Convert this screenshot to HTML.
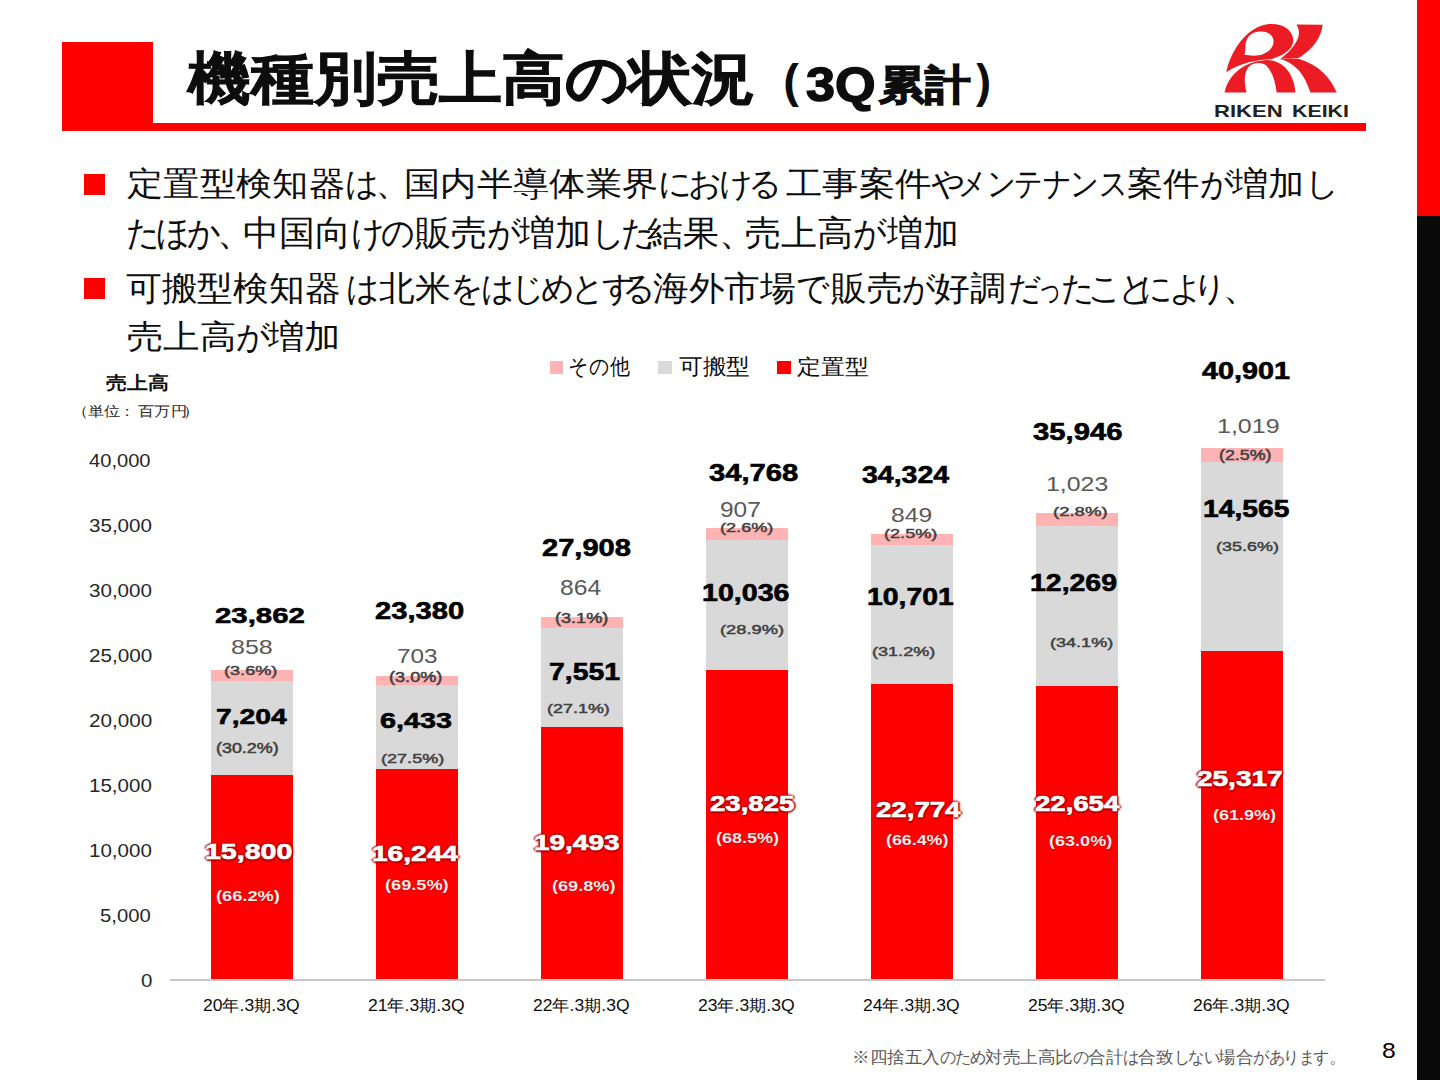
<!DOCTYPE html>
<html><head><meta charset="utf-8"><style>
html,body{margin:0;padding:0;background:#fff;}
body{width:1440px;height:1080px;position:relative;overflow:hidden;font-family:"Liberation Sans",sans-serif;}
.t{position:absolute;white-space:nowrap;transform-origin:0 0;}
.b{position:absolute;width:82px;}
.r{position:absolute;}
</style></head><body>
<div class="r" style="left:1417px;top:0;width:23px;height:216px;background:#ff0000"></div>
<div class="r" style="left:1417px;top:216px;width:23px;height:864px;background:#0a0a0a"></div>
<div class="r" style="left:62px;top:42px;width:91px;height:89px;background:#ff0000"></div>
<div class="r" style="left:62px;top:123px;width:1304px;height:8px;background:#ff0000"></div>
<svg style="position:absolute;left:1220px;top:18px" width="120" height="77" viewBox="0 0 1440 924">
<g fill="#ec1c24">
<path d="M75,650 C120,430 300,100 590,72 C770,60 885,160 878,275 C870,380 760,450 610,495 C430,500 240,545 75,650 Z"/>
<path d="M55,895 C95,690 280,535 490,512 C600,490 700,520 780,590 C860,670 900,790 905,895 L680,895 C665,770 630,650 560,575 C500,525 400,530 340,590 C290,650 285,770 318,895 Z"/>
<path d="M720,492 C800,480 880,478 960,495 C1180,560 1330,720 1400,895 L1085,895 C1040,760 980,640 880,570 C830,530 780,505 720,492 Z"/>
<path d="M918,78 L1232,82 C1215,230 1120,370 960,470 L930,482 C880,478 790,482 720,492 C820,420 905,330 940,230 C955,170 945,120 918,78 Z"/>
</g>
<path fill="#fff" d="M455,165 C570,150 645,205 643,285 C640,365 560,430 465,448 C400,458 340,448 290,442 C305,420 302,395 305,340 C310,240 360,178 455,165 Z"/>
</svg>

<div class="r" style="left:84px;top:174px;width:21px;height:21px;background:#ff0000"></div>
<div class="r" style="left:84px;top:278px;width:21px;height:21px;background:#ff0000"></div>
<div class="r" style="left:550px;top:361px;width:13px;height:13px;background:#ffb3b3"></div>
<div class="r" style="left:658px;top:361px;width:14px;height:13px;background:#d9d9d9"></div>
<div class="r" style="left:777px;top:361px;width:14px;height:13px;background:#ff0000"></div>
<div class="b" style="left:211px;top:669.79px;height:11.15px;background:#ffb3b3"></div><div class="b" style="left:211px;top:680.95px;height:93.65px;background:#d9d9d9"></div><div class="b" style="left:211px;top:774.60px;height:205.40px;background:#ff0000"></div><div class="b" style="left:376px;top:676.06px;height:9.14px;background:#ffb3b3"></div><div class="b" style="left:376px;top:685.20px;height:83.63px;background:#d9d9d9"></div><div class="b" style="left:376px;top:768.83px;height:211.17px;background:#ff0000"></div><div class="b" style="left:541px;top:617.20px;height:11.23px;background:#ffb3b3"></div><div class="b" style="left:541px;top:628.43px;height:98.16px;background:#d9d9d9"></div><div class="b" style="left:541px;top:726.59px;height:253.41px;background:#ff0000"></div><div class="b" style="left:706px;top:528.02px;height:11.79px;background:#ffb3b3"></div><div class="b" style="left:706px;top:539.81px;height:130.47px;background:#d9d9d9"></div><div class="b" style="left:706px;top:670.28px;height:309.72px;background:#ff0000"></div><div class="b" style="left:871px;top:533.79px;height:11.04px;background:#ffb3b3"></div><div class="b" style="left:871px;top:544.83px;height:139.11px;background:#d9d9d9"></div><div class="b" style="left:871px;top:683.94px;height:296.06px;background:#ff0000"></div><div class="b" style="left:1036px;top:512.70px;height:13.30px;background:#ffb3b3"></div><div class="b" style="left:1036px;top:526.00px;height:159.50px;background:#d9d9d9"></div><div class="b" style="left:1036px;top:685.50px;height:294.50px;background:#ff0000"></div><div class="b" style="left:1201px;top:448.29px;height:13.25px;background:#ffb3b3"></div><div class="b" style="left:1201px;top:461.53px;height:189.35px;background:#d9d9d9"></div><div class="b" style="left:1201px;top:650.88px;height:329.12px;background:#ff0000"></div>
<div class="r" style="left:170px;top:979px;width:1155px;height:2px;background:#c8c8c8"></div>
<div class="t" style="left:187.89px;top:50.13px;font-family:'Liberation Sans',sans-serif;font-weight:bold;font-size:57.35px;line-height:57.35px;color:#0d0d0d;transform:scaleX(1.1027);-webkit-text-stroke-width:0.014em;">機種別売上高の状況</div>
<div class="t" style="left:760.23px;top:57.91px;font-family:'Liberation Sans',sans-serif;font-weight:bold;font-size:46.60px;line-height:46.60px;color:#0d0d0d;transform:scaleX(0.8936);-webkit-text-stroke-width:0.05em;">（</div>
<div class="t" style="left:806.08px;top:59.79px;font-family:'Liberation Sans',sans-serif;font-weight:bold;font-size:48.93px;line-height:48.93px;color:#0d0d0d;transform:scaleX(1.0659);-webkit-text-stroke-width:0.03em;">3Q</div>
<div class="t" style="left:878.57px;top:65.02px;font-family:'Liberation Sans',sans-serif;font-weight:bold;font-size:40.96px;line-height:40.96px;color:#0d0d0d;transform:scaleX(1.1137);-webkit-text-stroke-width:0.035em;">累計</div>
<div class="t" style="left:973.49px;top:57.91px;font-family:'Liberation Sans',sans-serif;font-weight:bold;font-size:46.60px;line-height:46.60px;color:#0d0d0d;transform:scaleX(0.8631);-webkit-text-stroke-width:0.05em;">）</div>
<div class="t" style="left:1214.43px;top:102.60px;font-family:'Liberation Sans',sans-serif;font-weight:bold;font-size:16.23px;line-height:16.23px;color:#231f20;transform:scaleX(1.3605);">RIKEN</div>
<div class="t" style="left:1292.08px;top:102.60px;font-family:'Liberation Sans',sans-serif;font-weight:bold;font-size:16.23px;line-height:16.23px;color:#231f20;transform:scaleX(1.3154);">KEIKI</div>
<div class="t" style="left:126.84px;top:168.20px;font-family:'Liberation Sans',sans-serif;font-weight:normal;font-size:32.73px;line-height:32.73px;color:#0d0d0d;transform:scaleX(1.1000);">定置型検知器<span style="display:inline-block;width:0.84em;transform:scaleX(0.92);transform-origin:0 0">は</span><span style="display:inline-block;width:0.8em">、</span></div>
<div class="t" style="left:404.12px;top:168.20px;font-family:'Liberation Sans',sans-serif;font-weight:normal;font-size:32.73px;line-height:32.73px;color:#0d0d0d;transform:scaleX(1.1000);">国内半導体業界<span style="display:inline-block;width:0.84em;transform:scaleX(0.92);transform-origin:0 0">に</span><span style="display:inline-block;width:0.84em;transform:scaleX(0.92);transform-origin:0 0">お</span><span style="display:inline-block;width:0.84em;transform:scaleX(0.92);transform-origin:0 0">け</span><span style="display:inline-block;width:0.84em;transform:scaleX(0.92);transform-origin:0 0">る</span></div>
<div class="t" style="left:786.08px;top:168.20px;font-family:'Liberation Sans',sans-serif;font-weight:normal;font-size:32.73px;line-height:32.73px;color:#0d0d0d;transform:scaleX(1.1000);">工事案件<span style="display:inline-block;width:0.84em;transform:scaleX(0.92);transform-origin:0 0">や</span></div>
<div class="t" style="left:958.12px;top:168.20px;font-family:'Liberation Sans',sans-serif;font-weight:normal;font-size:32.73px;line-height:32.73px;color:#0d0d0d;transform:scaleX(1.1000);"><span style="display:inline-block;width:0.78em;transform:scaleX(0.78);transform-origin:0 0">メ</span><span style="display:inline-block;width:0.78em;transform:scaleX(0.78);transform-origin:0 0">ン</span><span style="display:inline-block;width:0.78em;transform:scaleX(0.78);transform-origin:0 0">テ</span><span style="display:inline-block;width:0.78em;transform:scaleX(0.78);transform-origin:0 0">ナ</span><span style="display:inline-block;width:0.78em;transform:scaleX(0.78);transform-origin:0 0">ン</span><span style="display:inline-block;width:0.78em;transform:scaleX(0.78);transform-origin:0 0">ス</span></div>
<div class="t" style="left:1126.92px;top:168.20px;font-family:'Liberation Sans',sans-serif;font-weight:normal;font-size:32.73px;line-height:32.73px;color:#0d0d0d;transform:scaleX(1.1000);">案件<span style="display:inline-block;width:0.84em;transform:scaleX(0.92);transform-origin:0 0">が</span></div>
<div class="t" style="left:1231.80px;top:168.20px;font-family:'Liberation Sans',sans-serif;font-weight:normal;font-size:32.73px;line-height:32.73px;color:#0d0d0d;transform:scaleX(1.1000);">増加<span style="display:inline-block;width:0.84em;transform:scaleX(0.92);transform-origin:0 0">し</span></div>
<div class="t" style="left:125.84px;top:216.20px;font-family:'Liberation Sans',sans-serif;font-weight:normal;font-size:34.95px;line-height:34.95px;color:#0d0d0d;transform:scaleX(1.0302);"><span style="display:inline-block;width:0.84em;transform:scaleX(0.92);transform-origin:0 0">た</span><span style="display:inline-block;width:0.84em;transform:scaleX(0.92);transform-origin:0 0">ほ</span><span style="display:inline-block;width:0.84em;transform:scaleX(0.92);transform-origin:0 0">か</span><span style="display:inline-block;width:0.8em">、</span></div>
<div class="t" style="left:242.84px;top:216.20px;font-family:'Liberation Sans',sans-serif;font-weight:normal;font-size:34.95px;line-height:34.95px;color:#0d0d0d;transform:scaleX(1.0302);">中国向<span style="display:inline-block;width:0.84em;transform:scaleX(0.92);transform-origin:0 0">け</span><span style="display:inline-block;width:0.84em;transform:scaleX(0.92);transform-origin:0 0">の</span></div>
<div class="t" style="left:415.24px;top:216.20px;font-family:'Liberation Sans',sans-serif;font-weight:normal;font-size:34.95px;line-height:34.95px;color:#0d0d0d;transform:scaleX(1.0302);">販売<span style="display:inline-block;width:0.84em;transform:scaleX(0.92);transform-origin:0 0">が</span></div>
<div class="t" style="left:519.40px;top:216.20px;font-family:'Liberation Sans',sans-serif;font-weight:normal;font-size:34.95px;line-height:34.95px;color:#0d0d0d;transform:scaleX(1.0302);">増加<span style="display:inline-block;width:0.84em;transform:scaleX(0.92);transform-origin:0 0">し</span><span style="display:inline-block;width:0.84em;transform:scaleX(0.92);transform-origin:0 0">た</span></div>
<div class="t" style="left:646.80px;top:216.20px;font-family:'Liberation Sans',sans-serif;font-weight:normal;font-size:34.95px;line-height:34.95px;color:#0d0d0d;transform:scaleX(1.0302);">結果<span style="display:inline-block;width:0.8em">、</span></div>
<div class="t" style="left:745.36px;top:216.20px;font-family:'Liberation Sans',sans-serif;font-weight:normal;font-size:34.95px;line-height:34.95px;color:#0d0d0d;transform:scaleX(1.0302);">売上高<span style="display:inline-block;width:0.84em;transform:scaleX(0.92);transform-origin:0 0">が</span></div>
<div class="t" style="left:886.80px;top:216.20px;font-family:'Liberation Sans',sans-serif;font-weight:normal;font-size:34.95px;line-height:34.95px;color:#0d0d0d;transform:scaleX(1.0302);">増加</div>
<div class="t" style="left:126.28px;top:270.77px;font-family:'Liberation Sans',sans-serif;font-weight:normal;font-size:34.27px;line-height:34.27px;color:#0d0d0d;transform:scaleX(1.0505);">可搬型検知器</div>
<div class="t" style="left:345.84px;top:270.77px;font-family:'Liberation Sans',sans-serif;font-weight:normal;font-size:34.27px;line-height:34.27px;color:#0d0d0d;transform:scaleX(1.0505);"><span style="display:inline-block;width:0.84em;transform:scaleX(0.92);transform-origin:0 0">は</span></div>
<div class="t" style="left:378.64px;top:270.77px;font-family:'Liberation Sans',sans-serif;font-weight:normal;font-size:34.27px;line-height:34.27px;color:#0d0d0d;transform:scaleX(1.0505);">北米<span style="display:inline-block;width:0.84em;transform:scaleX(0.92);transform-origin:0 0">を</span><span style="display:inline-block;width:0.84em;transform:scaleX(0.92);transform-origin:0 0">は</span><span style="display:inline-block;width:0.84em;transform:scaleX(0.92);transform-origin:0 0">じ</span><span style="display:inline-block;width:0.84em;transform:scaleX(0.92);transform-origin:0 0">め</span><span style="display:inline-block;width:0.84em;transform:scaleX(0.92);transform-origin:0 0">と</span><span style="display:inline-block;width:0.84em;transform:scaleX(0.92);transform-origin:0 0">す</span></div>
<div class="t" style="left:622.04px;top:270.77px;font-family:'Liberation Sans',sans-serif;font-weight:normal;font-size:34.27px;line-height:34.27px;color:#0d0d0d;transform:scaleX(1.0505);"><span style="display:inline-block;width:0.84em;transform:scaleX(0.92);transform-origin:0 0">る</span></div>
<div class="t" style="left:653.28px;top:270.77px;font-family:'Liberation Sans',sans-serif;font-weight:normal;font-size:34.27px;line-height:34.27px;color:#0d0d0d;transform:scaleX(1.0505);">海外市場<span style="display:inline-block;width:0.84em;transform:scaleX(0.92);transform-origin:0 0">で</span></div>
<div class="t" style="left:831.44px;top:270.77px;font-family:'Liberation Sans',sans-serif;font-weight:normal;font-size:34.27px;line-height:34.27px;color:#0d0d0d;transform:scaleX(1.0505);">販売<span style="display:inline-block;width:0.84em;transform:scaleX(0.92);transform-origin:0 0">が</span></div>
<div class="t" style="left:933.64px;top:270.77px;font-family:'Liberation Sans',sans-serif;font-weight:normal;font-size:34.27px;line-height:34.27px;color:#0d0d0d;transform:scaleX(1.0505);">好調</div>
<div class="t" style="left:1007.84px;top:270.77px;font-family:'Liberation Sans',sans-serif;font-weight:normal;font-size:34.27px;line-height:34.27px;color:#0d0d0d;transform:scaleX(1.0505);"><span style="display:inline-block;width:0.84em;transform:scaleX(0.92);transform-origin:0 0">だ</span><span style="display:inline-block;width:0.66em;transform:scaleX(0.66);transform-origin:0 0">っ</span></div>
<div class="t" style="left:1061.04px;top:270.77px;font-family:'Liberation Sans',sans-serif;font-weight:normal;font-size:34.27px;line-height:34.27px;color:#0d0d0d;transform:scaleX(1.0505);"><span style="display:inline-block;width:0.84em;transform:scaleX(0.92);transform-origin:0 0">た</span></div>
<div class="t" style="left:1088.04px;top:270.77px;font-family:'Liberation Sans',sans-serif;font-weight:normal;font-size:34.27px;line-height:34.27px;color:#0d0d0d;transform:scaleX(1.0505);"><span style="display:inline-block;width:0.84em;transform:scaleX(0.92);transform-origin:0 0">こ</span><span style="display:inline-block;width:0.84em;transform:scaleX(0.92);transform-origin:0 0">と</span></div>
<div class="t" style="left:1138.56px;top:270.77px;font-family:'Liberation Sans',sans-serif;font-weight:normal;font-size:34.27px;line-height:34.27px;color:#0d0d0d;transform:scaleX(1.0505);"><span style="display:inline-block;width:0.84em;transform:scaleX(0.92);transform-origin:0 0">に</span><span style="display:inline-block;width:0.84em;transform:scaleX(0.92);transform-origin:0 0">よ</span></div>
<div class="t" style="left:1192.80px;top:270.77px;font-family:'Liberation Sans',sans-serif;font-weight:normal;font-size:34.27px;line-height:34.27px;color:#0d0d0d;transform:scaleX(1.0505);"><span style="display:inline-block;width:0.84em;transform:scaleX(0.92);transform-origin:0 0">り</span><span style="display:inline-block;width:0.8em">、</span></div>
<div class="t" style="left:126.56px;top:320.57px;font-family:'Liberation Sans',sans-serif;font-weight:normal;font-size:32.66px;line-height:32.66px;color:#0d0d0d;transform:scaleX(1.1023);">売上高<span style="display:inline-block;width:0.84em;transform:scaleX(0.92);transform-origin:0 0">が</span></div>
<div class="t" style="left:268.20px;top:320.57px;font-family:'Liberation Sans',sans-serif;font-weight:normal;font-size:32.66px;line-height:32.66px;color:#0d0d0d;transform:scaleX(1.1023);">増加</div>
<div class="t" style="left:568.37px;top:355.92px;font-family:'Liberation Sans',sans-serif;font-weight:normal;font-size:21.65px;line-height:21.65px;color:#0d0d0d;transform:scaleX(0.9092);">その他</div>
<div class="t" style="left:678.53px;top:356.12px;font-family:'Liberation Sans',sans-serif;font-weight:normal;font-size:22.11px;line-height:22.11px;color:#0d0d0d;transform:scaleX(1.0773);">可搬型</div>
<div class="t" style="left:796.76px;top:356.00px;font-family:'Liberation Sans',sans-serif;font-weight:normal;font-size:21.21px;line-height:21.21px;color:#0d0d0d;transform:scaleX(1.1352);">定置型</div>
<div class="t" style="left:105.78px;top:374.86px;font-family:'Liberation Sans',sans-serif;font-weight:bold;font-size:17.82px;line-height:17.82px;color:#0d0d0d;transform:scaleX(1.1606);">売上高</div>
<div class="t" style="left:72.21px;top:403.73px;font-family:'Liberation Sans',sans-serif;font-weight:normal;font-size:14.30px;line-height:14.30px;color:#262626;transform:scaleX(1.1608);">（</div>
<div class="t" style="left:88.47px;top:403.73px;font-family:'Liberation Sans',sans-serif;font-weight:normal;font-size:14.30px;line-height:14.30px;color:#262626;transform:scaleX(1.1608);">単位</div>
<div class="t" style="left:118.90px;top:403.73px;font-family:'Liberation Sans',sans-serif;font-weight:normal;font-size:14.30px;line-height:14.30px;color:#262626;transform:scaleX(1.1608);">：</div>
<div class="t" style="left:137.87px;top:403.73px;font-family:'Liberation Sans',sans-serif;font-weight:normal;font-size:14.30px;line-height:14.30px;color:#262626;transform:scaleX(1.1608);">百万円</div>
<div class="t" style="left:182.71px;top:403.73px;font-family:'Liberation Sans',sans-serif;font-weight:normal;font-size:14.30px;line-height:14.30px;color:#262626;transform:scaleX(1.1608);">）</div>
<div class="t" style="left:89.39px;top:452.87px;font-family:'Liberation Sans',sans-serif;font-weight:normal;font-size:17.89px;line-height:17.89px;color:#262626;transform:scaleX(1.1258);">40,000</div>
<div class="t" style="left:88.98px;top:517.87px;font-family:'Liberation Sans',sans-serif;font-weight:normal;font-size:17.89px;line-height:17.89px;color:#262626;transform:scaleX(1.1519);">35,000</div>
<div class="t" style="left:88.98px;top:582.87px;font-family:'Liberation Sans',sans-serif;font-weight:normal;font-size:17.89px;line-height:17.89px;color:#262626;transform:scaleX(1.1519);">30,000</div>
<div class="t" style="left:88.77px;top:647.87px;font-family:'Liberation Sans',sans-serif;font-weight:normal;font-size:17.89px;line-height:17.89px;color:#262626;transform:scaleX(1.1558);">25,000</div>
<div class="t" style="left:88.77px;top:712.87px;font-family:'Liberation Sans',sans-serif;font-weight:normal;font-size:17.89px;line-height:17.89px;color:#262626;transform:scaleX(1.1558);">20,000</div>
<div class="t" style="left:89.14px;top:777.87px;font-family:'Liberation Sans',sans-serif;font-weight:normal;font-size:17.89px;line-height:17.89px;color:#262626;transform:scaleX(1.1487);">15,000</div>
<div class="t" style="left:89.14px;top:842.87px;font-family:'Liberation Sans',sans-serif;font-weight:normal;font-size:17.89px;line-height:17.89px;color:#262626;transform:scaleX(1.1487);">10,000</div>
<div class="t" style="left:100.39px;top:907.87px;font-family:'Liberation Sans',sans-serif;font-weight:normal;font-size:17.89px;line-height:17.89px;color:#262626;transform:scaleX(1.1320);">5,000</div>
<div class="t" style="left:140.59px;top:972.87px;font-family:'Liberation Sans',sans-serif;font-weight:normal;font-size:17.89px;line-height:17.89px;color:#262626;transform:scaleX(1.1457);">0</div>
<div class="t" style="left:203.34px;top:996.75px;font-family:'Liberation Sans',sans-serif;font-weight:normal;font-size:16.34px;line-height:16.34px;color:#0d0d0d;transform:scaleX(1.0718);">20年.3期.3Q</div>
<div class="t" style="left:368.34px;top:996.75px;font-family:'Liberation Sans',sans-serif;font-weight:normal;font-size:16.34px;line-height:16.34px;color:#0d0d0d;transform:scaleX(1.0718);">21年.3期.3Q</div>
<div class="t" style="left:533.34px;top:996.75px;font-family:'Liberation Sans',sans-serif;font-weight:normal;font-size:16.34px;line-height:16.34px;color:#0d0d0d;transform:scaleX(1.0718);">22年.3期.3Q</div>
<div class="t" style="left:698.34px;top:996.75px;font-family:'Liberation Sans',sans-serif;font-weight:normal;font-size:16.34px;line-height:16.34px;color:#0d0d0d;transform:scaleX(1.0718);">23年.3期.3Q</div>
<div class="t" style="left:863.34px;top:996.75px;font-family:'Liberation Sans',sans-serif;font-weight:normal;font-size:16.34px;line-height:16.34px;color:#0d0d0d;transform:scaleX(1.0718);">24年.3期.3Q</div>
<div class="t" style="left:1028.34px;top:996.75px;font-family:'Liberation Sans',sans-serif;font-weight:normal;font-size:16.34px;line-height:16.34px;color:#0d0d0d;transform:scaleX(1.0718);">25年.3期.3Q</div>
<div class="t" style="left:1193.34px;top:996.75px;font-family:'Liberation Sans',sans-serif;font-weight:normal;font-size:16.34px;line-height:16.34px;color:#0d0d0d;transform:scaleX(1.0718);">26年.3期.3Q</div>
<div class="t" style="left:851.52px;top:1048.88px;font-family:'Liberation Sans',sans-serif;font-weight:normal;font-size:17.29px;line-height:17.29px;color:#595959;transform:scaleX(1.0347);">※四捨五入<span style="display:inline-block;width:0.84em;transform:scaleX(0.92);transform-origin:0 0">の</span><span style="display:inline-block;width:0.84em;transform:scaleX(0.92);transform-origin:0 0">た</span><span style="display:inline-block;width:0.84em;transform:scaleX(0.92);transform-origin:0 0">め</span>対売上高比<span style="display:inline-block;width:0.84em;transform:scaleX(0.92);transform-origin:0 0">の</span>合計<span style="display:inline-block;width:0.84em;transform:scaleX(0.92);transform-origin:0 0">は</span>合致<span style="display:inline-block;width:0.84em;transform:scaleX(0.92);transform-origin:0 0">し</span><span style="display:inline-block;width:0.84em;transform:scaleX(0.92);transform-origin:0 0">な</span><span style="display:inline-block;width:0.84em;transform:scaleX(0.92);transform-origin:0 0">い</span>場合<span style="display:inline-block;width:0.84em;transform:scaleX(0.92);transform-origin:0 0">が</span><span style="display:inline-block;width:0.84em;transform:scaleX(0.92);transform-origin:0 0">あ</span><span style="display:inline-block;width:0.84em;transform:scaleX(0.92);transform-origin:0 0">り</span><span style="display:inline-block;width:0.84em;transform:scaleX(0.92);transform-origin:0 0">ま</span><span style="display:inline-block;width:0.84em;transform:scaleX(0.92);transform-origin:0 0">す</span><span style="display:inline-block;width:0.8em">。</span></div>
<div class="t" style="left:1382.19px;top:1039.99px;font-family:'Liberation Sans',sans-serif;font-weight:normal;font-size:22.39px;line-height:22.39px;color:#000;transform:scaleX(1.1026);">8</div>
<div class="t" style="left:215.41px;top:604.15px;font-family:'Liberation Sans',sans-serif;font-weight:bold;font-size:22.88px;line-height:22.88px;color:#000;transform:scaleX(1.2838);-webkit-text-stroke-width:0.025em;">23,862</div>
<div class="t" style="left:374.62px;top:600.48px;font-family:'Liberation Sans',sans-serif;font-weight:bold;font-size:23.01px;line-height:23.01px;color:#000;transform:scaleX(1.2675);-webkit-text-stroke-width:0.025em;">23,380</div>
<div class="t" style="left:542.22px;top:536.26px;font-family:'Liberation Sans',sans-serif;font-weight:bold;font-size:24.25px;line-height:24.25px;color:#000;transform:scaleX(1.1991);-webkit-text-stroke-width:0.025em;">27,908</div>
<div class="t" style="left:709.31px;top:461.05px;font-family:'Liberation Sans',sans-serif;font-weight:bold;font-size:24.66px;line-height:24.66px;color:#000;transform:scaleX(1.1833);-webkit-text-stroke-width:0.025em;">34,768</div>
<div class="t" style="left:861.51px;top:463.25px;font-family:'Liberation Sans',sans-serif;font-weight:bold;font-size:24.66px;line-height:24.66px;color:#000;transform:scaleX(1.1558);-webkit-text-stroke-width:0.025em;">34,324</div>
<div class="t" style="left:1033.11px;top:420.74px;font-family:'Liberation Sans',sans-serif;font-weight:bold;font-size:23.29px;line-height:23.29px;color:#000;transform:scaleX(1.2557);-webkit-text-stroke-width:0.025em;">35,946</div>
<div class="t" style="left:1202.40px;top:359.74px;font-family:'Liberation Sans',sans-serif;font-weight:bold;font-size:23.29px;line-height:23.29px;color:#000;transform:scaleX(1.2374);-webkit-text-stroke-width:0.025em;">40,901</div>
<div class="t" style="left:231.00px;top:636.69px;font-family:'Liberation Sans',sans-serif;font-weight:normal;font-size:20.42px;line-height:20.42px;color:#595959;transform:scaleX(1.2259);">858</div>
<div class="t" style="left:396.57px;top:645.69px;font-family:'Liberation Sans',sans-serif;font-weight:normal;font-size:20.42px;line-height:20.42px;color:#595959;transform:scaleX(1.1917);">703</div>
<div class="t" style="left:559.82px;top:577.35px;font-family:'Liberation Sans',sans-serif;font-weight:normal;font-size:21.69px;line-height:21.69px;color:#595959;transform:scaleX(1.1354);">864</div>
<div class="t" style="left:720.37px;top:499.69px;font-family:'Liberation Sans',sans-serif;font-weight:normal;font-size:21.41px;line-height:21.41px;color:#595959;transform:scaleX(1.1428);">907</div>
<div class="t" style="left:891.41px;top:504.33px;font-family:'Liberation Sans',sans-serif;font-weight:normal;font-size:21.13px;line-height:21.13px;color:#595959;transform:scaleX(1.1684);">849</div>
<div class="t" style="left:1046.02px;top:474.49px;font-family:'Liberation Sans',sans-serif;font-weight:normal;font-size:20.42px;line-height:20.42px;color:#595959;transform:scaleX(1.2181);">1,023</div>
<div class="t" style="left:1217.00px;top:416.29px;font-family:'Liberation Sans',sans-serif;font-weight:normal;font-size:20.42px;line-height:20.42px;color:#595959;transform:scaleX(1.2263);">1,019</div>
<div class="t" style="left:224.48px;top:663.91px;font-family:'Liberation Sans',sans-serif;font-weight:normal;font-size:13.37px;line-height:13.37px;color:#404040;transform:scaleX(1.3551);-webkit-text-stroke-width:0.035em;">(3.6%)</div>
<div class="t" style="left:389.48px;top:670.29px;font-family:'Liberation Sans',sans-serif;font-weight:normal;font-size:14.08px;line-height:14.08px;color:#404040;transform:scaleX(1.2864);-webkit-text-stroke-width:0.035em;">(3.0%)</div>
<div class="t" style="left:554.87px;top:611.87px;font-family:'Liberation Sans',sans-serif;font-weight:normal;font-size:13.78px;line-height:13.78px;color:#404040;transform:scaleX(1.3150);-webkit-text-stroke-width:0.035em;">(3.1%)</div>
<div class="t" style="left:720.28px;top:521.17px;font-family:'Liberation Sans',sans-serif;font-weight:normal;font-size:13.27px;line-height:13.27px;color:#404040;transform:scaleX(1.3655);-webkit-text-stroke-width:0.035em;">(2.6%)</div>
<div class="t" style="left:884.47px;top:527.17px;font-family:'Liberation Sans',sans-serif;font-weight:normal;font-size:13.27px;line-height:13.27px;color:#404040;transform:scaleX(1.3656);-webkit-text-stroke-width:0.035em;">(2.5%)</div>
<div class="t" style="left:1053.26px;top:504.59px;font-family:'Liberation Sans',sans-serif;font-weight:normal;font-size:13.57px;line-height:13.57px;color:#404040;transform:scaleX(1.3655);-webkit-text-stroke-width:0.035em;">(2.8%)</div>
<div class="t" style="left:1219.28px;top:448.29px;font-family:'Liberation Sans',sans-serif;font-weight:normal;font-size:14.08px;line-height:14.08px;color:#404040;transform:scaleX(1.2665);-webkit-text-stroke-width:0.035em;">(2.5%)</div>
<div class="t" style="left:216.15px;top:705.28px;font-family:'Liberation Sans',sans-serif;font-weight:bold;font-size:22.81px;line-height:22.81px;color:#000;transform:scaleX(1.2411);-webkit-text-stroke-width:0.025em;">7,204</div>
<div class="t" style="left:380.23px;top:708.82px;font-family:'Liberation Sans',sans-serif;font-weight:bold;font-size:22.74px;line-height:22.74px;color:#000;transform:scaleX(1.2657);-webkit-text-stroke-width:0.025em;">6,433</div>
<div class="t" style="left:549.15px;top:659.66px;font-family:'Liberation Sans',sans-serif;font-weight:bold;font-size:23.84px;line-height:23.84px;color:#000;transform:scaleX(1.1905);-webkit-text-stroke-width:0.025em;">7,551</div>
<div class="t" style="left:702.16px;top:582.21px;font-family:'Liberation Sans',sans-serif;font-weight:bold;font-size:23.15px;line-height:23.15px;color:#000;transform:scaleX(1.2366);-webkit-text-stroke-width:0.025em;">10,036</div>
<div class="t" style="left:866.78px;top:585.74px;font-family:'Liberation Sans',sans-serif;font-weight:bold;font-size:23.29px;line-height:23.29px;color:#000;transform:scaleX(1.2179);-webkit-text-stroke-width:0.025em;">10,701</div>
<div class="t" style="left:1030.37px;top:571.61px;font-family:'Liberation Sans',sans-serif;font-weight:bold;font-size:23.15px;line-height:23.15px;color:#000;transform:scaleX(1.2293);-webkit-text-stroke-width:0.025em;">12,269</div>
<div class="t" style="left:1202.76px;top:497.74px;font-family:'Liberation Sans',sans-serif;font-weight:bold;font-size:23.29px;line-height:23.29px;color:#000;transform:scaleX(1.2152);-webkit-text-stroke-width:0.025em;">14,565</div>
<div class="t" style="left:216.28px;top:742.01px;font-family:'Liberation Sans',sans-serif;font-weight:normal;font-size:13.88px;line-height:13.88px;color:#404040;transform:scaleX(1.2896);-webkit-text-stroke-width:0.035em;">(30.2%)</div>
<div class="t" style="left:381.08px;top:752.45px;font-family:'Liberation Sans',sans-serif;font-weight:normal;font-size:13.47px;line-height:13.47px;color:#404040;transform:scaleX(1.3417);-webkit-text-stroke-width:0.035em;">(27.5%)</div>
<div class="t" style="left:547.29px;top:701.79px;font-family:'Liberation Sans',sans-serif;font-weight:normal;font-size:13.57px;line-height:13.57px;color:#404040;transform:scaleX(1.3229);-webkit-text-stroke-width:0.035em;">(27.1%)</div>
<div class="t" style="left:719.88px;top:622.73px;font-family:'Liberation Sans',sans-serif;font-weight:normal;font-size:13.67px;line-height:13.67px;color:#404040;transform:scaleX(1.3389);-webkit-text-stroke-width:0.035em;">(28.9%)</div>
<div class="t" style="left:872.48px;top:644.65px;font-family:'Liberation Sans',sans-serif;font-weight:normal;font-size:13.47px;line-height:13.47px;color:#404040;transform:scaleX(1.3417);-webkit-text-stroke-width:0.035em;">(31.2%)</div>
<div class="t" style="left:1050.28px;top:636.11px;font-family:'Liberation Sans',sans-serif;font-weight:normal;font-size:13.37px;line-height:13.37px;color:#404040;transform:scaleX(1.3519);-webkit-text-stroke-width:0.035em;">(34.1%)</div>
<div class="t" style="left:1216.28px;top:539.59px;font-family:'Liberation Sans',sans-serif;font-weight:normal;font-size:13.57px;line-height:13.57px;color:#404040;transform:scaleX(1.3273);-webkit-text-stroke-width:0.035em;">(35.6%)</div>
<div class="t" style="left:205.37px;top:842.26px;font-family:'Liberation Sans',sans-serif;font-weight:bold;font-size:21.47px;line-height:21.47px;color:#fff;transform:scaleX(1.3288);text-shadow:1.5px 0 1.5px #b00000,-1.5px 0 1.5px #b00000,0 1.5px 1.5px #b00000,0 -1.5px 1.5px #b00000,0 0 3px #900000;-webkit-text-stroke-width:0.03em;">15,800</div>
<div class="t" style="left:371.59px;top:843.46px;font-family:'Liberation Sans',sans-serif;font-weight:bold;font-size:22.27px;line-height:22.27px;color:#fff;transform:scaleX(1.2612);text-shadow:1.5px 0 1.5px #b00000,-1.5px 0 1.5px #b00000,0 1.5px 1.5px #b00000,0 -1.5px 1.5px #b00000,0 0 3px #900000;-webkit-text-stroke-width:0.03em;">16,244</div>
<div class="t" style="left:533.79px;top:831.79px;font-family:'Liberation Sans',sans-serif;font-weight:bold;font-size:22.20px;line-height:22.20px;color:#fff;transform:scaleX(1.2596);text-shadow:1.5px 0 1.5px #b00000,-1.5px 0 1.5px #b00000,0 1.5px 1.5px #b00000,0 -1.5px 1.5px #b00000,0 0 3px #900000;-webkit-text-stroke-width:0.03em;">19,493</div>
<div class="t" style="left:710.04px;top:793.53px;font-family:'Liberation Sans',sans-serif;font-weight:bold;font-size:21.33px;line-height:21.33px;color:#fff;transform:scaleX(1.2935);text-shadow:1.5px 0 1.5px #b00000,-1.5px 0 1.5px #b00000,0 1.5px 1.5px #b00000,0 -1.5px 1.5px #b00000,0 0 3px #900000;-webkit-text-stroke-width:0.03em;">23,825</div>
<div class="t" style="left:875.84px;top:798.82px;font-family:'Liberation Sans',sans-serif;font-weight:bold;font-size:22.57px;line-height:22.57px;color:#fff;transform:scaleX(1.2235);text-shadow:1.5px 0 1.5px #b00000,-1.5px 0 1.5px #b00000,0 1.5px 1.5px #b00000,0 -1.5px 1.5px #b00000,0 0 3px #900000;-webkit-text-stroke-width:0.03em;">22,774</div>
<div class="t" style="left:1035.24px;top:793.39px;font-family:'Liberation Sans',sans-serif;font-weight:bold;font-size:22.00px;line-height:22.00px;color:#fff;transform:scaleX(1.2520);text-shadow:1.5px 0 1.5px #b00000,-1.5px 0 1.5px #b00000,0 1.5px 1.5px #b00000,0 -1.5px 1.5px #b00000,0 0 3px #900000;-webkit-text-stroke-width:0.03em;">22,654</div>
<div class="t" style="left:1197.43px;top:768.39px;font-family:'Liberation Sans',sans-serif;font-weight:bold;font-size:22.00px;line-height:22.00px;color:#fff;transform:scaleX(1.2717);text-shadow:1.5px 0 1.5px #b00000,-1.5px 0 1.5px #b00000,0 1.5px 1.5px #b00000,0 -1.5px 1.5px #b00000,0 0 3px #900000;-webkit-text-stroke-width:0.03em;">25,317</div>
<div class="t" style="left:216.09px;top:888.87px;font-family:'Liberation Sans',sans-serif;font-weight:bold;font-size:14.63px;line-height:14.63px;color:#ffe8e8;transform:scaleX(1.2466);text-shadow:0 0 1px #a00000,0 0 1px #a00000;">(66.2%)</div>
<div class="t" style="left:385.09px;top:876.56px;font-family:'Liberation Sans',sans-serif;font-weight:bold;font-size:15.16px;line-height:15.16px;color:#ffe8e8;transform:scaleX(1.1991);text-shadow:0 0 1px #a00000,0 0 1px #a00000;">(69.5%)</div>
<div class="t" style="left:552.10px;top:878.87px;font-family:'Liberation Sans',sans-serif;font-weight:bold;font-size:14.63px;line-height:14.63px;color:#ffe8e8;transform:scaleX(1.2387);text-shadow:0 0 1px #a00000,0 0 1px #a00000;">(69.8%)</div>
<div class="t" style="left:716.11px;top:831.13px;font-family:'Liberation Sans',sans-serif;font-weight:bold;font-size:14.36px;line-height:14.36px;color:#ffe8e8;transform:scaleX(1.2535);text-shadow:0 0 1px #a00000,0 0 1px #a00000;">(68.5%)</div>
<div class="t" style="left:886.31px;top:832.53px;font-family:'Liberation Sans',sans-serif;font-weight:bold;font-size:14.36px;line-height:14.36px;color:#ffe8e8;transform:scaleX(1.2412);text-shadow:0 0 1px #a00000,0 0 1px #a00000;">(66.4%)</div>
<div class="t" style="left:1049.30px;top:833.68px;font-family:'Liberation Sans',sans-serif;font-weight:bold;font-size:14.79px;line-height:14.79px;color:#ffe8e8;transform:scaleX(1.2213);text-shadow:0 0 1px #a00000,0 0 1px #a00000;">(63.0%)</div>
<div class="t" style="left:1212.51px;top:808.58px;font-family:'Liberation Sans',sans-serif;font-weight:bold;font-size:13.94px;line-height:13.94px;color:#ffe8e8;transform:scaleX(1.2918);text-shadow:0 0 1px #a00000,0 0 1px #a00000;">(61.9%)</div>
</body></html>
